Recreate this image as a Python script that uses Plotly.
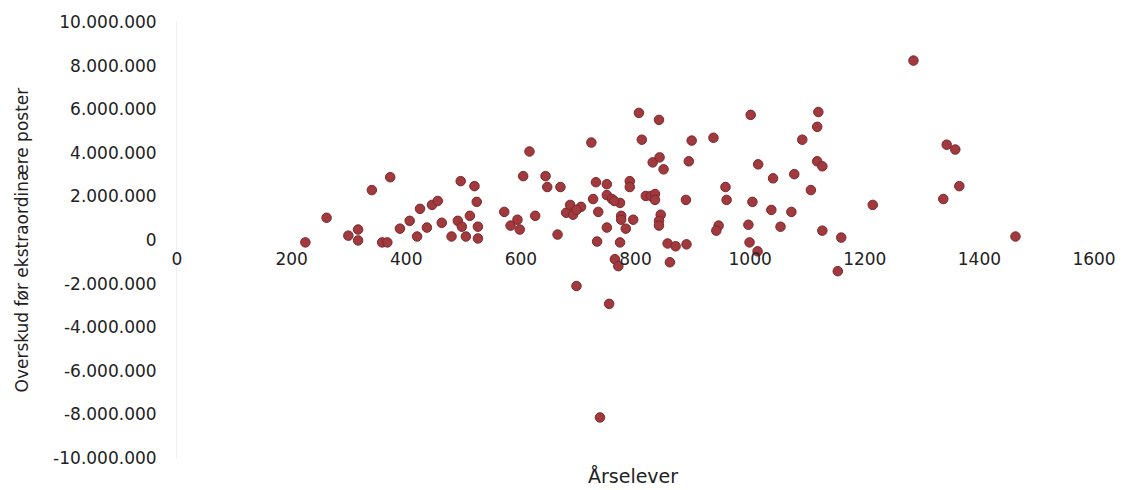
import plotly.graph_objects as go

# Årselever (x) and Overskud før ekstraordinære poster (y, kr.)
aarselever = [
    224, 261, 299, 316, 316, 340, 372, 358, 367, 389,
    406, 419, 424, 436, 445, 455, 462, 479, 490, 495,
    497, 504, 511, 519, 523, 525, 525, 571, 582, 594,
    598, 604, 615, 625, 643, 646, 669, 664, 679, 686,
    691, 705, 697, 723, 726, 731, 735, 733, 750, 750,
    750, 759, 773, 763, 764, 770, 773, 775, 775, 783,
    790, 790, 796, 806, 811, 818, 827, 834, 834, 830,
    842, 841, 849, 844, 841, 841, 856, 870, 860, 888,
    889, 893, 898, 697, 754, 738, 936, 957, 959, 945,
    941, 1001, 1014, 1004, 997, 999, 1013, 1040, 1037, 1053,
    1072, 1077, 1091, 1106, 1119, 1117, 1117, 1126, 1126, 1159,
    1153, 1214, 1285, 1343, 1358, 1365, 1337, 1463,
]
overskud = [
    -110000, 1020000, 200000, 480000, -20000, 2290000, 2880000, -110000, -110000, 520000,
    880000, 160000, 1430000, 570000, 1610000, 1790000, 790000, 160000, 880000, 2700000,
    610000, 160000, 1110000, 2470000, 1750000, 610000, 70000, 1290000, 660000, 930000,
    480000, 2930000, 4060000, 1110000, 2930000, 2430000, 2430000, 250000, 1250000, 1610000,
    1160000, 1520000, 1380000, 4470000, 1880000, 2650000, 1290000, -70000, 2560000, 570000,
    2060000, 1880000, 1700000, 1790000, -880000, -1200000, -110000, 1110000, 930000, 520000,
    2700000, 2430000, 930000, 5830000, 4600000, 2020000, 2020000, 2110000, 1840000, 3560000,
    3790000, 5510000, 3240000, 1160000, 880000, 660000, -160000, -290000, -1020000, 1840000,
    -200000, 3610000, 4560000, -2110000, -2930000, -8140000, 4690000, 2430000, 1840000, 660000,
    430000, 5740000, 3470000, 1750000, 700000, -110000, -520000, 2830000, 1380000, 610000,
    1290000, 3020000, 4600000, 2290000, 5870000, 5190000, 3610000, 3380000, 430000, 110000,
    -1430000, 1610000, 8230000, 4370000, 4150000, 2470000, 1880000, 160000,
]

x_tickvals = [0, 200, 400, 600, 800, 1000, 1200, 1400, 1600]
y_tickvals = [10000000, 8000000, 6000000, 4000000, 2000000, 0,
              -2000000, -4000000, -6000000, -8000000, -10000000]
y_ticktext = ["10.000.000", "8.000.000", "6.000.000", "4.000.000", "2.000.000", "0",
              "-2.000.000", "-4.000.000", "-6.000.000", "-8.000.000", "-10.000.000"]

x_title = "Årselever"
y_title = "Overskud før ekstraordinære poster"

tick_font = dict(family="DejaVu Sans", size=17, color="#222222")

fig = go.Figure(
    go.Scatter(
        x=aarselever,
        y=overskud,
        mode="markers",
        marker=dict(size=9.5, color="#A13A3E", line=dict(color="#7E2629", width=1)),
        showlegend=False,
    )
)

fig.update_layout(
    width=1128,
    height=490,
    margin=dict(l=177, r=31, t=17, b=32),
    plot_bgcolor="white",
    paper_bgcolor="white",
    showlegend=False,
    xaxis=dict(
        range=[0, 1600],
        tickvals=x_tickvals,
        anchor="free",
        position=0.5,
        showgrid=False,
        zeroline=False,
        showline=False,
        ticks="outside",
        ticklen=4,
        tickcolor="rgba(0,0,0,0)",
        tickfont=tick_font,
    ),
    yaxis=dict(
        range=[-10000000, 10000000],
        tickvals=y_tickvals,
        ticktext=y_ticktext,
        showgrid=False,
        zeroline=False,
        showline=True,
        linecolor="#f0f0f0",
        ticks="outside",
        ticklen=16,
        tickcolor="rgba(0,0,0,0)",
        tickfont=tick_font,
    ),
    annotations=[
        dict(text=x_title, xref="paper", yref="paper", x=0.497, y=-0.041,
             xanchor="center", yanchor="middle", showarrow=False,
             font=dict(family="DejaVu Sans", size=19, color="#222222")),
        dict(text=y_title, xref="paper", yref="paper", x=-0.1685, y=0.5,
             xanchor="center", yanchor="middle", textangle=-90, showarrow=False,
             font=dict(family="DejaVu Sans", size=17, color="#222222")),
    ],
)

fig.write_html("out.html", config={"displayModeBar": False},
               post_script="document.body.style.margin='0';")
